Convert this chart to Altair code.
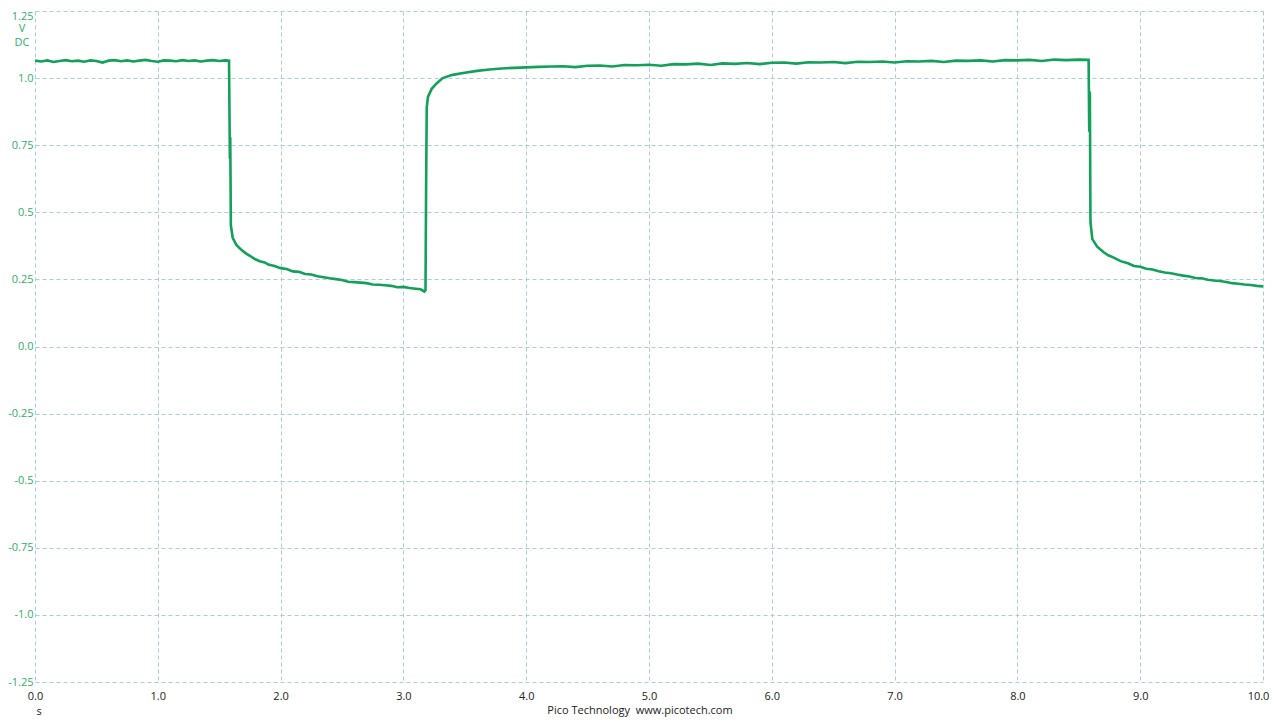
import altair as alt
import pandas as pd

# Time (s) and voltage (V DC)
times = [
    0.00, 0.05, 0.10, 0.15, 0.20, 0.25, 0.30, 0.35, 0.40, 0.45, 0.50, 0.55, 0.60, 0.65, 0.70, 0.75,
    0.80, 0.85, 0.90, 0.95, 1.00, 1.05, 1.10, 1.15, 1.20, 1.25, 1.30, 1.35, 1.40, 1.45, 1.50, 1.55,
    1.580, 1.587, 1.590, 1.595, 1.61, 1.64, 1.68, 1.72, 1.75, 1.79, 1.83, 1.87, 1.90, 1.95, 2.00,
    2.05, 2.10, 2.15, 2.20, 2.25, 2.30, 2.35, 2.40, 2.45, 2.50, 2.55, 2.60, 2.65, 2.70, 2.75, 2.80,
    2.85, 2.90, 2.95, 3.00, 3.05, 3.10, 3.14, 3.17,
    3.180, 3.185, 3.190, 3.20, 3.23, 3.27, 3.32, 3.40, 3.50, 3.60, 3.70, 3.80, 3.90, 4.00, 4.10, 4.20,
    4.30, 4.40, 4.50, 4.60, 4.70, 4.80, 4.90, 5.00, 5.10, 5.20, 5.30, 5.40, 5.50, 5.60, 5.70, 5.80,
    5.90, 6.00, 6.10, 6.20, 6.30, 6.40, 6.50, 6.60, 6.70, 6.80, 6.90, 7.00, 7.10, 7.20, 7.30, 7.40,
    7.50, 7.60, 7.70, 7.80, 7.90, 8.00, 8.10, 8.20, 8.30, 8.40, 8.50, 8.57,
    8.580, 8.585, 8.590, 8.595, 8.61, 8.65, 8.70, 8.74, 8.78, 8.84, 8.90, 8.95, 9.00, 9.05, 9.10,
    9.15, 9.20, 9.25, 9.30, 9.35, 9.40, 9.45, 9.50, 9.55, 9.60, 9.65, 9.70, 9.75, 9.80, 9.85, 9.90,
    9.95, 10.00,
]
volts = [
    1.065, 1.062, 1.066, 1.060, 1.064, 1.067, 1.063, 1.065, 1.061, 1.066, 1.064, 1.058, 1.065, 1.067, 1.063, 1.066,
    1.062, 1.065, 1.068, 1.064, 1.061, 1.066, 1.065, 1.063, 1.067, 1.064, 1.066, 1.062, 1.065, 1.067, 1.064, 1.066,
    1.065, 0.700, 0.780, 0.450, 0.405, 0.378, 0.360, 0.346, 0.338, 0.326, 0.318, 0.313, 0.305, 0.300, 0.292,
    0.289, 0.280, 0.278, 0.270, 0.268, 0.262, 0.258, 0.254, 0.251, 0.248, 0.241, 0.240, 0.238, 0.236, 0.231, 0.230,
    0.228, 0.226, 0.221, 0.222, 0.218, 0.215, 0.213, 0.205,
    0.210, 0.600, 0.890, 0.930, 0.960, 0.980, 1.000, 1.012, 1.020, 1.027, 1.032, 1.036, 1.038, 1.040, 1.042, 1.043,
    1.044, 1.041, 1.046, 1.047, 1.043, 1.049, 1.048, 1.050, 1.046, 1.052, 1.051, 1.054, 1.049, 1.055, 1.053, 1.056,
    1.052, 1.057, 1.058, 1.054, 1.059, 1.058, 1.060, 1.056, 1.061, 1.060, 1.062, 1.058, 1.063, 1.062, 1.064, 1.060,
    1.065, 1.064, 1.066, 1.062, 1.067, 1.066, 1.068, 1.064, 1.069, 1.067, 1.069, 1.068,
    1.068, 0.800, 0.950, 0.463, 0.400, 0.372, 0.352, 0.340, 0.332, 0.318, 0.310, 0.300, 0.297, 0.290, 0.287,
    0.280, 0.276, 0.273, 0.268, 0.264, 0.261, 0.255, 0.254, 0.249, 0.246, 0.244, 0.240, 0.236, 0.234, 0.231, 0.229,
    0.226, 0.224,
]

x_ticks = [0, 1, 2, 3, 4, 5, 6, 7, 8, 9, 10]
y_ticks = [-1.25, -1.0, -0.75, -0.5, -0.25, 0.0, 0.25, 0.5, 0.75, 1.0, 1.25]

df = pd.DataFrame({"t": times, "v": volts})

TRACE = "#12a05a"
LABEL_GREEN = "#2fae6a"
GRID = "#a9cdd4"
FONT = "Open Sans"

y_label_expr = (
    "replace(abs(datum.value*2 - round(datum.value*2)) < 1e-6 ? "
    "format(datum.value, '.1f') : format(datum.value, '.2f'), '\u2212', '-')"
)

line = alt.Chart(df).mark_line(color=TRACE, strokeWidth=2.6, clip=True).encode(
    x=alt.X(
        "t:Q",
        scale=alt.Scale(domain=[0, 10], nice=False, zero=False),
        axis=alt.Axis(
            values=x_ticks, format=".1f", title=None, domain=False, ticks=False,
            labelPadding=8, labelColor="#222222", labelFont=FONT, labelFontSize=11,
            labelFlush=False,
            labelOffset={"condition": {"test": "datum.value > 9.5", "value": -5}, "value": 0},
            grid=True, gridColor=GRID, gridDash=[4, 3], gridWidth=1,
        ),
    ),
    y=alt.Y(
        "v:Q",
        scale=alt.Scale(domain=[-1.25, 1.25], nice=False, zero=False),
        axis=alt.Axis(
            values=y_ticks, labelExpr=y_label_expr, title=None, domain=False, ticks=False,
            labelPadding=2, labelColor=LABEL_GREEN, labelFont=FONT, labelFontSize=11,
            labelFlush=False,
            labelOffset={"condition": {"test": "datum.value > 1.2", "value": 5}, "value": 0},
            grid=True, gridColor=GRID, gridDash=[4, 3], gridWidth=1,
        ),
    ),
)

unit_df = pd.DataFrame({"txt": ["V", "DC"], "yy": [18, 32]})
units = alt.Chart(unit_df).mark_text(
    color=LABEL_GREEN, font=FONT, fontSize=11, align="center", baseline="middle"
).encode(x=alt.value(-13), y=alt.Y("yy:Q", scale=None), text="txt:N")

s_lbl = alt.Chart(pd.DataFrame({"txt": ["s"]})).mark_text(
    color="#222222", font=FONT, fontSize=11, align="center", baseline="middle"
).encode(x=alt.value(4), y=alt.value(701), text="txt:N")

footer = alt.Chart(pd.DataFrame({"txt": ["Pico Technology\u00a0\u00a0www.picotech.com"]})).mark_text(
    color="#222222", font=FONT, fontSize=11, align="center", baseline="middle"
).encode(x=alt.value(605), y=alt.value(700), text="txt:N")

chart = (
    alt.layer(line, units, s_lbl, footer)
    .properties(
        width=1228,
        height=671,
        autosize=alt.AutoSizeParams(type="none"),
        padding={"left": 27, "top": 3, "right": 9, "bottom": 38},
        background="white",
    )
    .configure_view(stroke=None)
)

chart.save("out.html", embed_options={"renderer": "svg", "actions": False})
